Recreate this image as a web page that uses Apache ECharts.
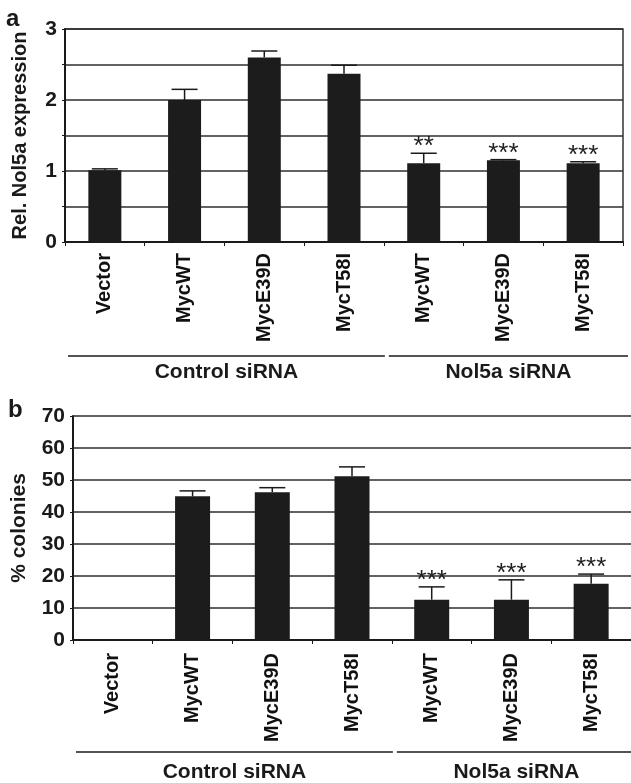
<!DOCTYPE html>
<html><head><meta charset="utf-8">
<script src="https://cdn.jsdelivr.net/npm/echarts@6/dist/echarts.min.js"></script>
<style>html,body{margin:0;padding:0;background:#fff}#c{width:631px;height:783px}</style>
</head><body><div id="c"></div>
<script>
// ---- data ----
const categories = ['Vector', 'MycWT', 'MycE39D', 'MycT58I', 'MycWT', 'MycE39D', 'MycT58I'];
const groupNames = ['Control siRNA', 'Nol5a siRNA'];
const groupSizes = [4, 3];
const exprValues = [1.01, 2.00, 2.60, 2.37, 1.11, 1.15, 1.11];
const exprErrors = [0.02, 0.15, 0.09, 0.12, 0.14, 0.01, 0.02];
const exprStars = ['', '', '', '', '**', '***', '***'];
const colonyValues = [0, 44.9, 46.2, 51.2, 12.6, 12.6, 17.6];
const colonyErrors = [0, 1.7, 1.4, 2.9, 4.0, 6.2, 3.0];
const colonyStars = ['', '', '', '', '***', '***', '***'];
const exprTicks = [0, 1, 2, 3];
const colonyTicks = [0, 10, 20, 30, 40, 50, 60, 70];

const FONT = '"Liberation Sans", Arial, Helvetica, sans-serif';
const INK = '#1a1a1a';
const chart = echarts.init(document.getElementById('c'), null, { renderer: 'canvas' });

function errSeries(idx, values, errors, stars, capW) {
  return {
    type: 'custom', xAxisIndex: idx, yAxisIndex: idx, z: 5, silent: true,
    data: values.map((v, i) => [i, v, errors[i]]),
    encode: { x: 0, y: 1 },
    renderItem: function (params, api) {
      const i = api.value(0), v = api.value(1), e = api.value(2);
      const s = stars[params.dataIndex];
      const children = [];
      const p0 = api.coord([i, v]);
      const p1 = api.coord([i, v + e]);
      if (e > 0) {
        children.push({ type: 'line', shape: { x1: p0[0], y1: p0[1], x2: p1[0], y2: p1[1] }, style: { stroke: INK, lineWidth: 1.5 } });
        children.push({ type: 'line', shape: { x1: p1[0] - capW / 2, y1: p1[1], x2: p1[0] + capW / 2, y2: p1[1] }, style: { stroke: INK, lineWidth: 1.5 } });
      }
      if (s) {
        children.push({ type: 'text', style: { text: s, x: p1[0], y: p1[1] + 7, align: 'center', textAlign: 'center', verticalAlign: 'bottom', textVerticalAlign: 'bottom', font: 'normal 26px ' + FONT, fill: '#222' } });
      }
      return { type: 'group', children: children };
    }
  };
}

function xAxisCfg(idx, margin) {
  return {
    type: 'category', gridIndex: idx, data: categories,
    axisLine: { show: true, lineStyle: { color: INK, width: 2 } },
    axisTick: { show: true, interval: 0, length: 4, lineStyle: { color: INK, width: 1 } },
    axisLabel: { interval: 0, rotate: 90, margin: margin, color: '#111', fontFamily: FONT, fontWeight: 'bold', fontSize: 20 },
    splitLine: { show: false }
  };
}

function yAxisCfg(idx, max, interval, ticks, name, nameGap, nameSize) {
  return {
    type: 'value', gridIndex: idx, min: 0, max: max, interval: interval,
    name: name, nameLocation: 'middle', nameGap: nameGap, nameRotate: 90,
    nameTextStyle: { color: INK, fontFamily: FONT, fontWeight: 'bold', fontSize: nameSize },
    axisLine: { show: true, lineStyle: { color: INK, width: 2 } },
    axisTick: { show: true, length: 3, lineStyle: { color: INK } },
    axisLabel: {
      margin: 8, color: INK, fontFamily: FONT, fontWeight: 'bold', fontSize: 21,
      formatter: v => (ticks.indexOf(v) >= 0 ? String(v) : '')
    },
    splitLine: { show: true, lineStyle: { color: '#2e2e2e', width: 1.5 } }
  };
}

chart.setOption({
  animation: false,
  backgroundColor: '#fff',
  grid: [
    { left: 65, top: 29, width: 558, height: 213, show: true, borderColor: '#333', borderWidth: 1.5 },
    { left: 73, top: 416, width: 572, height: 224 }
  ],
  xAxis: [xAxisCfg(0, 11), xAxisCfg(1, 13)],
  yAxis: [
    yAxisCfg(0, 3, 0.5, exprTicks, 'Rel. Nol5a expression', 35, 20),
    yAxisCfg(1, 70, 10, colonyTicks, '% colonies', 43, 21)
  ],
  series: [
    { type: 'bar', xAxisIndex: 0, yAxisIndex: 0, data: exprValues, barWidth: 33, itemStyle: { color: '#1c1c1c' } },
    errSeries(0, exprValues, exprErrors, exprStars, 26),
    { type: 'bar', xAxisIndex: 1, yAxisIndex: 1, data: colonyValues, barWidth: 35, itemStyle: { color: '#1c1c1c' } },
    errSeries(1, colonyValues, colonyErrors, colonyStars, 26)
  ]
});

function groupGraphics(idx, lineY, textY) {
  const c0 = chart.convertToPixel({ xAxisIndex: idx }, 0);
  const c1 = chart.convertToPixel({ xAxisIndex: idx }, 1);
  const w = c1 - c0;
  const boundary = k => c0 - w / 2 + k * w;
  const out = [];
  let start = 0;
  groupSizes.forEach((n, g) => {
    const a = boundary(start), b = boundary(start + n);
    const x1 = g === 0 ? a + 3 : a + 5;
    const x2 = g === 0 ? b + 1 : b + 5;
    out.push({ type: 'line', shape: { x1: x1, y1: lineY, x2: x2, y2: lineY }, style: { stroke: INK, lineWidth: 1.5 } });
    out.push({ type: 'text', style: { text: groupNames[g], x: (x1 + x2) / 2, y: textY, align: 'center', textAlign: 'center', verticalAlign: 'middle', textVerticalAlign: 'middle', font: 'bold 21px ' + FONT, fill: INK } });
    start += n;
  });
  return out;
}

const gfx = [].concat(
  groupGraphics(0, 356, 372),
  groupGraphics(1, 752, 772),
  [
    { type: 'text', style: { text: 'a', x: 6, y: 19, verticalAlign: 'middle', textVerticalAlign: 'middle', font: 'bold 24px ' + FONT, fill: INK } },
    { type: 'text', style: { text: 'b', x: 8, y: 410, verticalAlign: 'middle', textVerticalAlign: 'middle', font: 'bold 24px ' + FONT, fill: INK } }
  ]
);
chart.setOption({ graphic: gfx });
</script>
</body></html>
